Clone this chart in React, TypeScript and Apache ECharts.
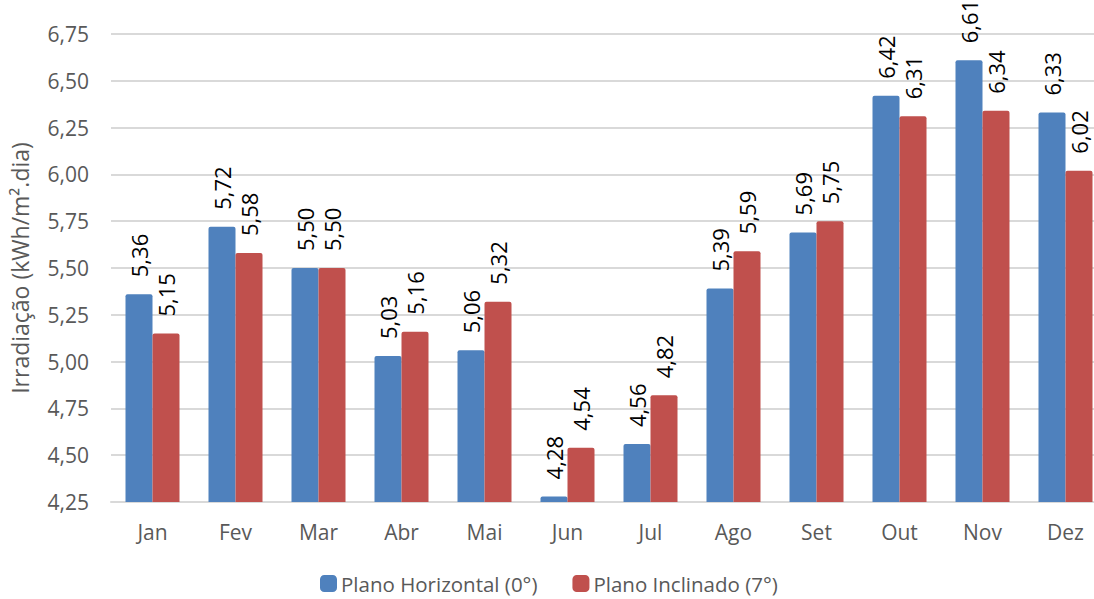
import React, { useEffect, useRef } from "react";
import * as echarts from "echarts";

const months = ["Jan", "Fev", "Mar", "Abr", "Mai", "Jun", "Jul", "Ago", "Set", "Out", "Nov", "Dez"];
const horizontal = [5.36, 5.72, 5.5, 5.03, 5.06, 4.28, 4.56, 5.39, 5.69, 6.42, 6.61, 6.33];
const inclinado = [5.15, 5.58, 5.5, 5.16, 5.32, 4.54, 4.82, 5.59, 5.75, 6.31, 6.34, 6.02];
const seriesNames = ["Plano Horizontal (0°)", "Plano Inclinado (7°)"];

const fmt = (v: number) => v.toFixed(2).replace(".", ",");
const FONT = "'Open Sans', 'Noto Sans', sans-serif";

export default function App() {
  const ref = useRef<HTMLDivElement>(null);
  useEffect(() => {
    document.body.style.margin = "0";
    const chart = echarts.init(ref.current!, null, { renderer: "svg" });
    const label = {
      show: true,
      position: "top",
      rotate: 90,
      align: "left",
      verticalAlign: "middle",
      distance: 15,
      offset: [2, 0],
      color: "#000",
      fontSize: 22,
      fontFamily: FONT,
      formatter: (p: any) => fmt(p.value),
    };
    chart.setOption({
      animation: false,
      textStyle: { fontFamily: FONT },
      grid: { left: 110, top: 34, width: 997, height: 468, containLabel: false },
      legend: {
        top: 573,
        left: 320,
        itemWidth: 17,
        itemHeight: 17,
        itemGap: 35,
        padding: 0,
        icon: "roundRect",
        textStyle: { fontSize: 20.5, color: "#595959", fontFamily: FONT, padding: [0, 0, 0, -1] },
        data: seriesNames,
      },
      xAxis: {
        type: "category",
        data: months,
        axisTick: { show: false },
        axisLine: { lineStyle: { color: "#d9d9d9", width: 2 } },
        axisLabel: { color: "#595959", fontSize: 21, margin: 19, fontFamily: FONT },
      },
      yAxis: {
        type: "value",
        min: 4.25,
        max: 6.75,
        interval: 0.25,
        name: "Irradiação (kWh/m².dia)",
        nameLocation: "middle",
        nameGap: 80,
        nameTextStyle: { color: "#595959", fontSize: 23, fontFamily: FONT },
        axisLine: { show: false },
        axisTick: { show: false },
        splitLine: { lineStyle: { color: "#d9d9d9", width: 2 } },
        axisLabel: { color: "#595959", fontSize: 21, margin: 22, fontFamily: FONT, formatter: (v: number) => fmt(v) },
      },
      series: [
        {
          name: seriesNames[0],
          type: "bar",
          data: horizontal,
          barWidth: 27,
          barGap: "0%",
          itemStyle: { color: "#4F81BD", borderRadius: [2, 2, 0, 0] },
          label,
        },
        {
          name: seriesNames[1],
          type: "bar",
          data: inclinado,
          barWidth: 27,
          barGap: "0%",
          itemStyle: { color: "#C0504D", borderRadius: [2, 2, 0, 0] },
          label,
        },
      ],
    });
    return () => chart.dispose();
  }, []);
  return (
    <div style={{ width: 1094, height: 599, overflow: "hidden" }}>
      <div ref={ref} style={{ width: 1110, height: 599 }} />
    </div>
  );
}
